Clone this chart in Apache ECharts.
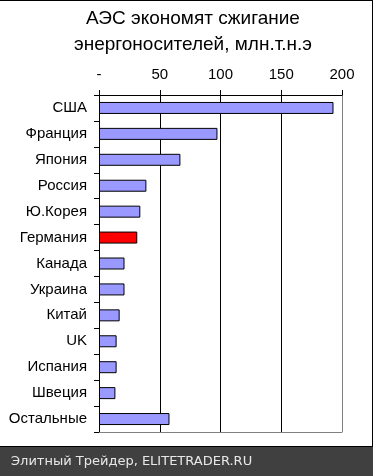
<!DOCTYPE html>
<html><head><meta charset="utf-8">
<script src="https://cdn.jsdelivr.net/npm/echarts@6/dist/echarts.min.js"></script>
<style>html,body{margin:0;padding:0;background:#fff}#c{width:373px;height:476px}</style>
</head><body><div id="c"></div>
<script>
const categories = ['США','Франция','Япония','Россия','Ю.Корея','Германия','Канада','Украина','Китай','UK','Испания','Швеция','Остальные'];
const values = [193, 97.5, 67, 39, 34, 31.5, 21, 21, 17, 14.5, 14.5, 13.5, 58];
const highlight = 'Германия';
const tickLabels = {0:'-',50:'50',100:'100',150:'150',200:'200'};
const titleText = 'АЭС экономят сжигание\nэнергоносителей, млн.т.н.э';
const footerText = 'Элитный Трейдер, ELITETRADER.RU';

const font = '"Liberation Sans", Arial, sans-serif';
const chart = echarts.init(document.getElementById('c'), null, {renderer:'canvas'});
chart.setOption({
  animation:false,
  backgroundColor:'#fff',
  title:{text:titleText,left:188,textAlign:'center',top:1,
    textStyle:{fontFamily:font,fontSize:19,fontWeight:'normal',color:'#000',lineHeight:26}},
  grid:{left:99,right:31,top:95,bottom:44,containLabel:false},
  xAxis:[{type:'value',position:'top',min:0,max:200,interval:50,
    axisLine:{show:true,lineStyle:{color:'#000',width:1}},
    axisTick:{show:true,length:5,lineStyle:{color:'#000'}},
    axisLabel:{fontFamily:font,fontSize:15,color:'#000',margin:13,formatter:v=>tickLabels[v]},
    splitLine:{show:true,lineStyle:{color:['#000','#000','#000','#000','#808080'],width:1}}},
    {type:'value',position:'bottom',min:0,max:200,
    axisLine:{show:true,lineStyle:{color:'#808080',width:1}},
    axisTick:{show:false},axisLabel:{show:false},splitLine:{show:false}}],
  yAxis:{type:'category',data:categories,inverse:true,
    axisLine:{show:true,lineStyle:{color:'#000'}},
    axisTick:{show:true,length:5,lineStyle:{color:'#000'}},
    axisLabel:{fontFamily:font,fontSize:15,color:'#000',margin:12}},
  series:[{type:'bar',xAxisIndex:0,barWidth:12,
    data:values.map((v,i)=>({value:v,itemStyle:{color:categories[i]===highlight?'#FF0000':'#9999FF'}})),
    itemStyle:{borderColor:'#000',borderWidth:1}}],
  graphic:[
    {type:'rect',shape:{x:0,y:447,width:373,height:29},style:{fill:'#404040'},silent:true},
    {type:'line',shape:{x1:0,y1:0.5,x2:373,y2:0.5},style:{stroke:'#000',lineWidth:1}},
    {type:'line',shape:{x1:372.5,y1:0,x2:372.5,y2:447},style:{stroke:'#000',lineWidth:1}},
    {type:'line',shape:{x1:0,y1:446.5,x2:373,y2:446.5},style:{stroke:'#000',lineWidth:1}},
    {type:'text',left:11,top:455,style:{text:footerText,fill:'#e8e8e8',font:'13px "DejaVu Sans", sans-serif'}}
  ]
});
</script></body></html>
